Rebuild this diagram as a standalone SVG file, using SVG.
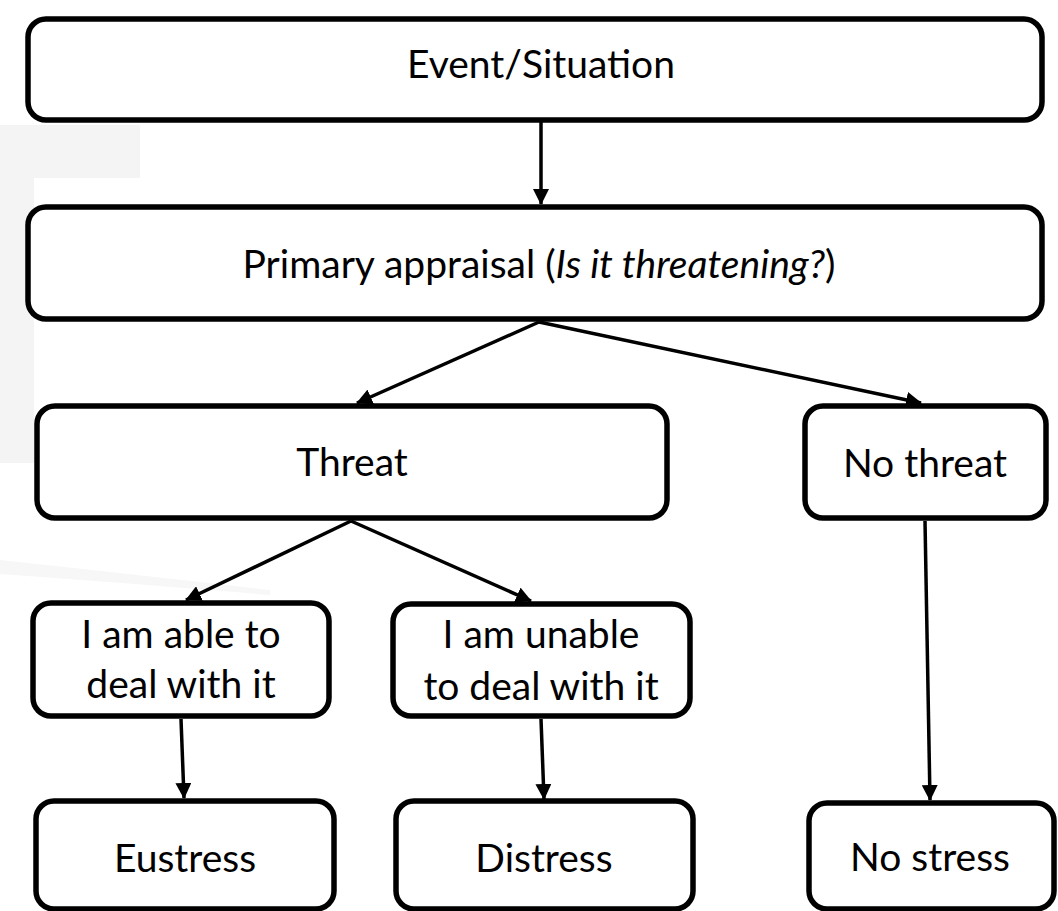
<svg xmlns="http://www.w3.org/2000/svg" width="1058" height="911" viewBox="0 0 1058 911">
<defs>
<style>
.box{fill:#ffffff;stroke:#000000;stroke-width:5.5}
.lbl{font-family:Lato,"Open Sans","Liberation Sans",sans-serif;font-size:39px;fill:#000000;text-anchor:middle}
.con{stroke:#000000;stroke-width:3.5;fill:none;marker-end:url(#ah)}
.bg{fill:#f4f4f4}
</style>
<marker id="ah" markerUnits="userSpaceOnUse" markerWidth="16" markerHeight="16" refX="15" refY="8" orient="auto" viewBox="0 0 16 16">
<path d="M0,0 L16,8 L0,16 z" fill="#000000"/>
</marker>
</defs>
<rect width="1058" height="911" fill="#ffffff"/>
<g id="background">
<rect class="bg" x="0" y="125" width="140" height="53"/>
<rect class="bg" x="0" y="178" width="34" height="285"/>
<path d="M0,560 Q140,575 270,590 L270,595 Q140,584 0,574 z" fill="#f7f7f7"/>
</g>
<g id="connectors">
<line class="con" x1="541" y1="122" x2="541" y2="204"/>
<line class="con" x1="539" y1="322" x2="357" y2="403"/>
<line class="con" x1="539" y1="322" x2="921" y2="403"/>
<line class="con" x1="351" y1="521" x2="186" y2="600"/>
<line class="con" x1="351" y1="521" x2="531" y2="601"/>
<line class="con" x1="181" y1="719" x2="184" y2="798"/>
<line class="con" x1="541" y1="719" x2="544" y2="799"/>
<line class="con" x1="925" y1="521" x2="930" y2="800"/>
</g>
<g id="event">
<rect class="box" x="28" y="19" width="1014" height="101" rx="18"/>
<text class="lbl" x="541" y="78">Event/Situation</text>
</g>
<g id="primary">
<rect class="box" x="28" y="207" width="1014" height="112" rx="18"/>
<text class="lbl" x="539" y="278">Primary appraisal (<tspan font-style="italic">Is it threatening?</tspan>)</text>
</g>
<g id="threat">
<rect class="box" x="37" y="406" width="630" height="112" rx="18"/>
<text class="lbl" x="352" y="476">Threat</text>
</g>
<g id="nothreat">
<rect class="box" x="805" y="406" width="241" height="112" rx="18"/>
<text class="lbl" x="925" y="477">No threat</text>
</g>
<g id="able">
<rect class="box" x="33" y="603" width="296" height="113" rx="18"/>
<text class="lbl" x="181" y="648">I am able to</text>
<text class="lbl" x="181" y="698">deal with it</text>
</g>
<g id="unable">
<rect class="box" x="393" y="604" width="297" height="112" rx="18"/>
<text class="lbl" x="541" y="648">I am unable</text>
<text class="lbl" x="541" y="700">to deal with it</text>
</g>
<g id="eustress">
<rect class="box" x="36" y="801" width="298" height="108" rx="18"/>
<text class="lbl" x="185" y="872">Eustress</text>
</g>
<g id="distress">
<rect class="box" x="396" y="801" width="297" height="108" rx="18"/>
<text class="lbl" x="544" y="872">Distress</text>
</g>
<g id="nostress">
<rect class="box" x="809" y="803" width="245" height="106" rx="18"/>
<text class="lbl" x="930" y="871">No stress</text>
</g>
</svg>
